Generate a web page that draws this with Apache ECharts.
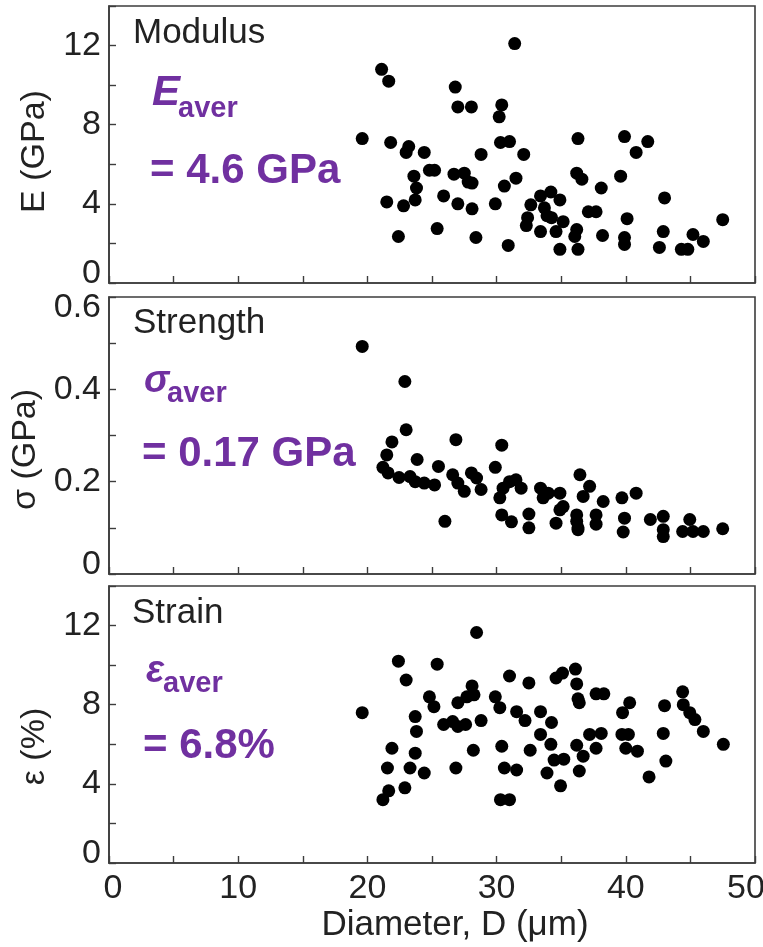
<!DOCTYPE html>
<html>
<head>
<meta charset="utf-8">
<script src="https://cdn.jsdelivr.net/npm/echarts@6/dist/echarts.min.js"></script>
<style>
  html, body { margin: 0; padding: 0; background: #fff; }
  #chart { width: 763px; height: 947px; }
</style>
</head>
<body>
<div id="chart"></div>
<script>
// Young's modulus vs. fibre diameter
const modulusD = [19.6, 21.1, 21.65, 21.5, 21.8, 22.4, 22.8, 23.0, 23.2, 23.6, 23.7, 23.8, 24.4, 24.8, 25.2, 25.4, 25.9, 26.7, 26.8, 27.0, 27.0, 27.5, 27.8, 28.05, 28.1, 28.1, 28.4, 28.8, 29.9, 30.2, 30.3, 30.4, 30.6, 30.9, 31.0, 31.4, 31.5, 32.1, 32.3, 32.4, 32.65, 33.4, 33.4, 33.7, 33.9, 34.2, 34.25, 34.6, 34.9, 34.9, 35.15, 36.05, 36.2, 36.3, 36.2, 36.3, 36.6, 37.1, 37.7, 38.1, 38.2, 39.6, 39.9, 39.9, 39.9, 40.1, 40.8, 41.7, 42.6, 42.9, 43.0, 44.3, 44.8, 45.2, 46.0, 47.5];
const modulusE = [7.3, 10.8, 10.2, 4.1, 7.1, 2.35, 3.9, 6.6, 6.9, 5.4, 4.2, 4.8, 6.6, 5.7, 5.7, 2.75, 4.4, 5.5, 9.9, 8.9, 4.0, 5.55, 5.1, 8.9, 5.05, 3.75, 2.3, 6.5, 4.0, 8.4, 7.1, 9.0, 4.9, 1.9, 7.15, 12.1, 5.3, 6.5, 2.9, 3.3, 3.95, 4.4, 2.6, 3.8, 3.4, 4.6, 3.3, 2.6, 4.2, 1.7, 3.1, 2.35, 2.7, 1.7, 5.55, 7.3, 5.25, 3.6, 3.6, 4.8, 2.4, 5.4, 7.4, 2.3, 1.95, 3.25, 6.6, 7.15, 1.8, 2.6, 4.3, 1.7, 1.7, 2.45, 2.1, 3.2];

// Tensile strength vs. fibre diameter
const strengthD = [19.6, 21.2, 21.5, 21.6, 21.9, 22.45, 22.9, 23.0, 23.3, 23.7, 23.85, 24.4, 25.2, 25.5, 26.0, 26.6, 26.85, 27.0, 27.5, 28.05, 28.45, 28.8, 29.9, 30.25, 30.4, 30.4, 30.5, 31.0, 31.15, 31.5, 31.9, 32.5, 32.5, 33.4, 33.6, 34.0, 34.6, 34.9, 34.9, 35.15, 36.2, 36.2, 36.3, 36.3, 36.45, 36.7, 37.2, 37.7, 37.7, 38.25, 39.7, 39.8, 39.9, 40.8, 41.9, 42.9, 42.9, 42.9, 44.4, 44.95, 45.2, 46.0, 47.5];
const strengthS = [0.493, 0.231, 0.258, 0.219, 0.286, 0.209, 0.417, 0.3125, 0.211, 0.200, 0.248, 0.197, 0.193, 0.233, 0.114, 0.215, 0.291, 0.197, 0.179, 0.219, 0.208, 0.183, 0.231, 0.165, 0.279, 0.128, 0.186, 0.200, 0.113, 0.204, 0.186, 0.130, 0.100, 0.186, 0.165, 0.175, 0.110, 0.175, 0.139, 0.146, 0.128, 0.114, 0.100, 0.096, 0.215, 0.168, 0.190, 0.128, 0.108, 0.157, 0.165, 0.091, 0.121, 0.175, 0.118, 0.125, 0.096, 0.081, 0.092, 0.118, 0.092, 0.092, 0.098];

// Strain at failure vs. fibre diameter
const strainD = [19.6, 21.2, 21.55, 21.65, 21.9, 22.4, 22.9, 23.0, 23.3, 23.7, 23.7, 23.8, 24.4, 24.8, 25.15, 25.4, 25.9, 26.6, 26.85, 27.0, 27.0, 27.6, 27.7, 28.1, 28.2, 28.25, 28.45, 28.8, 29.9, 30.25, 30.3, 30.4, 30.6, 31.0, 31.0, 31.55, 31.55, 32.2, 32.5, 32.6, 33.4, 33.4, 33.9, 34.2, 34.25, 34.45, 34.6, 34.95, 35.1, 35.2, 36.1, 36.2, 36.2, 36.3, 36.4, 36.4, 36.7, 37.2, 37.7, 37.7, 38.1, 38.3, 39.7, 39.75, 40.0, 40.2, 40.3, 40.9, 41.8, 42.9, 43.0, 43.1, 44.4, 44.45, 44.95, 45.35, 46.0, 47.55];
const strainE = [7.6, 3.2, 4.8, 3.65, 5.8, 10.2, 3.8, 9.25, 4.8, 7.4, 5.55, 6.65, 4.55, 8.4, 7.9, 10.05, 7.0, 7.15, 4.8, 8.1, 6.9, 7.0, 8.4, 8.95, 5.7, 8.5, 11.65, 7.2, 8.4, 7.85, 3.2, 5.9, 4.8, 9.45, 3.2, 7.65, 4.7, 7.2, 9.1, 5.7, 7.65, 6.5, 4.55, 6.0, 7.1, 5.2, 9.35, 3.9, 9.6, 5.25, 9.8, 9.05, 5.95, 8.3, 8.1, 4.65, 5.4, 6.5, 8.55, 5.8, 6.55, 8.55, 6.5, 7.6, 5.8, 6.5, 8.1, 5.65, 4.35, 6.55, 7.95, 5.15, 8.65, 8.0, 7.6, 7.25, 6.65, 6.0];

// Axis ranges and labelled ticks
const xRange = [0, 50, 5];
const xTickLabels = [0, 10, 20, 30, 40, 50];
const eRange = [0, 14, 2];
const eTickLabels = [0, 4, 8, 12];
const sRange = [0, 0.6, 0.1];
const sTickLabels = ['0', '0.2', '0.4', '0.6'];

const panelTitles = ['Modulus', 'Strength', 'Strain'];
const axisNames = ['E (GPa)', 'σ (GPa)', 'ε (%)'];
const xName = 'Diameter, D (μm)';
const averages = ['= 4.6 GPa', '= 0.17 GPa', '= 6.8%'];

const FONT = '"Liberation Sans", Arial, Helvetica, sans-serif';
const PURPLE = '#7030A0';
const INK = '#222';
const LINE = '#3c3c3c';
const TICK_FS = 34;

const grids = [
  { left: 109, right: 8, top: 6, height: 277 },
  { left: 109, right: 8, top: 297, height: 277 },
  { left: 109, right: 8, top: 586, height: 277 }
].map(g => Object.assign(g, {
  show: true, borderColor: LINE, borderWidth: 1.6, backgroundColor: 'transparent',
  containLabel: false, outerBoundsMode: 'none'
}));

// Edge labels are nudged inward so they stay clear of the neighbouring panel / page edge
const labelRich = {
  x0: { padding: [0, 0, 0, 8] },
  xEnd: { padding: [0, 18, 0, 0] },
  yLow: { padding: [0, 0, 18, 0] },
  yHigh: { padding: [22, 0, 0, 0] }
};
function richLabel(fs) {
  const r = {};
  Object.keys(labelRich).forEach(k => { r[k] = Object.assign({ fontSize: fs, fontFamily: FONT, color: INK }, labelRich[k]); });
  return r;
}

function xAxis(i, showLabels) {
  return {
    type: 'value', gridIndex: i, min: xRange[0], max: xRange[1], interval: xRange[2],
    axisLine: { lineStyle: { color: LINE, width: 1.6 } },
    axisTick: { inside: true, length: 7, lineStyle: { color: LINE, width: 1.4 } },
    splitLine: { show: false },
    axisLabel: {
      show: showLabels, margin: 9, color: INK, fontSize: TICK_FS, fontFamily: FONT,
      rich: richLabel(TICK_FS),
      formatter: v => {
        const r = Math.round(v);
        if (!xTickLabels.includes(r)) return '';
        if (r === xRange[0]) return '{x0|' + r + '}';
        if (r === xRange[1]) return '{xEnd|' + r + '}';
        return String(r);
      }
    },
    name: showLabels ? xName : '',
    nameLocation: 'middle', nameGap: 45,
    nameTextStyle: { color: INK, fontSize: 35, fontFamily: FONT, padding: [0, 0, 0, 46] }
  };
}

function yAxis(i, range, fmt, nameShift) {
  return {
    type: 'value', gridIndex: i, min: range[0], max: range[1], interval: range[2],
    axisLine: { lineStyle: { color: LINE, width: 1.6 } },
    axisTick: { inside: true, length: 7, lineStyle: { color: LINE, width: 1.4 } },
    splitLine: { show: false },
    axisLabel: { margin: 8, color: INK, fontSize: TICK_FS, fontFamily: FONT, rich: richLabel(TICK_FS), formatter: fmt },
    name: axisNames[i], nameLocation: 'middle', nameGap: 57,
    nameTextStyle: { color: INK, fontSize: 34, fontFamily: FONT, padding: [0, nameShift, 0, 0] }
  };
}

const eFormatter = v => {
  const r = Math.round(v);
  if (!eTickLabels.includes(r)) return '';
  return r === 0 ? '{yLow|0}' : String(r);
};
const sFormatter = v => {
  const k = Math.round(v * 10);
  if (k % 2 !== 0) return '';
  const s = sTickLabels[k / 2];
  if (k === 0) return '{yLow|' + s + '}';
  if (k === 6) return '{yHigh|' + s + '}';
  return s;
};

function zip(a, b) { return a.map((v, k) => [v, b[k]]); }

const dot = {
  type: 'scatter', symbol: 'circle', symbolSize: 13,
  itemStyle: { color: '#000', opacity: 1 }, silent: true
};

// Text placed by baseline; canvas "middle" sits ~0.3465 em above the baseline
function txt(x, baseline, text, size, extra) {
  return {
    type: 'text', x: x, y: baseline - 0.3465 * size,
    style: Object.assign({ text: text, fontSize: size, fontFamily: FONT, fill: INK, verticalAlign: 'middle', align: 'left' }, extra || {})
  };
}

const purpleBold = { fill: PURPLE, fontWeight: 'bold' };

const graphics = [
  txt(133, 45, panelTitles[0], 35),
  txt(133, 335, panelTitles[1], 35),
  txt(132, 625, panelTitles[2], 35),

  txt(152, 108, 'E', 42, { fill: PURPLE, fontWeight: 'bold', fontStyle: 'italic' }),
  txt(178, 119, 'aver', 29, purpleBold),
  txt(150, 186, averages[0], 42, purpleBold),

  txt(144, 395, 'σ', 38, { fill: PURPLE, fontWeight: 'bold', fontStyle: 'italic' }),
  txt(167, 404, 'aver', 29, purpleBold),
  txt(142, 469, averages[1], 42, purpleBold),

  txt(146, 685, 'ε', 38, { fill: PURPLE, fontWeight: 'bold', fontStyle: 'italic' }),
  txt(163, 694, 'aver', 29, purpleBold),
  txt(143, 761, averages[2], 42, purpleBold)
];

const chart = echarts.init(document.getElementById('chart'), null, { renderer: 'canvas' });
chart.setOption({
  animation: false,
  backgroundColor: '#fff',
  grid: grids,
  xAxis: [xAxis(0, false), xAxis(1, false), xAxis(2, true)],
  yAxis: [
    yAxis(0, eRange, eFormatter, 14),
    yAxis(1, sRange, sFormatter, 28),
    yAxis(2, eRange, eFormatter, 44)
  ],
  series: [
    Object.assign({}, dot, { xAxisIndex: 0, yAxisIndex: 0, data: zip(modulusD, modulusE) }),
    Object.assign({}, dot, { xAxisIndex: 1, yAxisIndex: 1, data: zip(strengthD, strengthS) }),
    Object.assign({}, dot, { xAxisIndex: 2, yAxisIndex: 2, data: zip(strainD, strainE) })
  ],
  graphic: graphics
});
</script>
</body>
</html>
